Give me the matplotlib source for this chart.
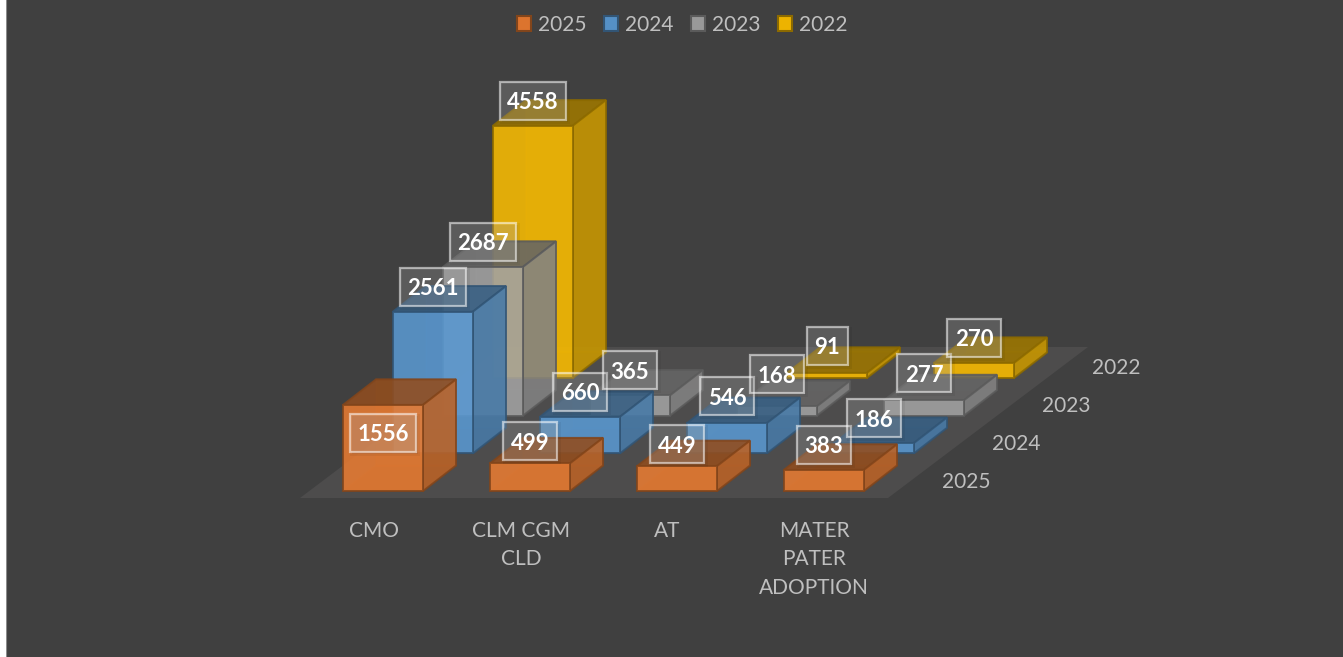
import matplotlib
matplotlib.use("agg")
import matplotlib.pyplot as plt
from matplotlib.patches import Polygon, Patch, Rectangle

categories = ["CMO", "CLM CGM\nCLD", "AT", "MATER\nPATER\nADOPTION"]
years = ["2025", "2024", "2023", "2022"]
v2025 = [1556, 499, 449, 383]
v2024 = [2561, 660, 546, 186]
v2023 = [2687, 365, 168, 277]
v2022 = [4558, None, 91, 270]
series = [v2025, v2024, v2023, v2022]
colors = ["#ED7D31", "#5B9BD5", "#A5A5A5", "#FFC000"]

# oblique projection, everything in pixels of the picture
X0, Y0 = 343, 491
CAT_STEP = 147
BAR_W = 80
SER_DX, SER_DY = 50, 37.7
DEPTH_DX, DEPTH_DY = 33, 25.5
SCALE = 0.05535
BG = "#404040"
TXT = "#BFBFBF"
FONT = "Lato"


def pt(i, j, x=0, d=0, v=0):
    # i category, j series, x across the bar, d into the bar, v value
    return (X0 + i * CAT_STEP + j * SER_DX + x + d * DEPTH_DX,
            Y0 - j * SER_DY - d * DEPTH_DY - v * SCALE)


def shade(c, f):
    r, g, b = matplotlib.colors.to_rgb(c)
    return (r * f, g * f, b * f)


def draw_bar(ax, i, j, v, c):
    edge = shade(c, 0.55)
    p = lambda x, d, h: pt(i, j, x, d, h)
    w = BAR_W
    faces = [
        ([p(0, 0, 0), p(w, 0, 0), p(w, 1, 0), p(0, 1, 0)], 0.45, 0.25),  # bottom
        ([p(0, 1, 0), p(w, 1, 0), p(w, 1, v), p(0, 1, v)], 0.55, 0.25),  # back
        ([p(0, 0, v), p(w, 0, v), p(w, 1, v), p(0, 1, v)], 0.62, 0.85),  # top
        ([p(w, 0, 0), p(w, 1, 0), p(w, 1, v), p(w, 0, v)], 0.80, 0.85),  # side
        ([p(0, 0, 0), p(w, 0, 0), p(w, 0, v), p(0, 0, v)], 1.00, 0.85),  # front
    ]
    for verts, f, a in faces:
        col = shade(c, f) + (a,)
        ax.add_patch(Polygon(verts, closed=True, facecolor=col,
                             edgecolor=edge + (0.85 if a > 0.5 else 0.15,), linewidth=1.4))


fig = plt.figure(figsize=(13.43, 6.57), dpi=100, facecolor="white")
ax = fig.add_axes([6 / 1343, 0, 1337 / 1343, 1])
ax.set_xlim(6, 1343)
ax.set_ylim(657, 0)
ax.set_facecolor(BG)
ax.set_xticks([])
ax.set_yticks([])
for s in ax.spines.values():
    s.set_visible(False)
ax.axvline(6, color="#8c8c8c", linewidth=1.5)

# floor
ax.add_patch(Polygon([(300, 498), (888, 498), (1088, 347), (500, 347)], closed=True,
                     facecolor="#4D4C4C", edgecolor="none"))

# back row first so the front bars sit over it
for j in range(len(series) - 1, -1, -1):
    for i in range(len(categories) - 1, -1, -1):
        v = series[j][i]
        if v is not None:
            draw_bar(ax, i, j, v, colors[j])

# data labels, 2025 first like the series order. nudge is (series, category)
nudge = {(0, 0): 53, (0, 1): 3, (0, 2): 3, (2, 2): -7, (3, 2): -2, (2, 3): -2, (1, 2): -2}
for j, vals in enumerate(series):
    for i, v in enumerate(vals):
        if v is None:
            continue
        cx = pt(i, j, BAR_W / 2)[0]
        cy = pt(i, j, 0, 0, v)[1] - 25 + nudge.get((j, i), 0)
        txt = str(v)
        w = 12.5 * len(txt) + 16
        # soft shadow
        for grow, a in [(0, 0.07), (4, 0.05)]:
            ax.add_patch(Rectangle((cx - w / 2 - grow / 2 + 2, cy - 17 - grow / 2), w + grow, 38 + grow,
                                   facecolor=(0, 0, 0, a), edgecolor="none"))
        ax.add_patch(Rectangle((cx - w / 2, cy - 19), w, 38, facecolor=(1, 1, 1, 0.18),
                               edgecolor=(1, 1, 1, 0.55), linewidth=1.6))
        ax.text(cx, cy, txt, ha="center", va="center_baseline", color="white",
                fontsize=16, fontweight="bold", family=FONT)

# axis labels
cat_centers = [374, 521, 667, 814]
for c, cx in zip(categories, cat_centers):
    ax.text(cx, 521, c, ha="center", va="top", color=TXT, fontsize=15, family=FONT,
            linespacing=1.53)
for j, y in enumerate(years):
    ax.text(966 + j * SER_DX, 482 - j * 38, y, ha="center", va="center", color=TXT,
            fontsize=15, family=FONT)

handles = [Patch(facecolor=shade(c, 0.93), edgecolor=shade(c, 0.55), linewidth=1.5, label=y)
           for c, y in zip(colors, years)]
leg = ax.legend(handles=handles, ncol=4, loc="center", bbox_to_anchor=(682 / 1343, 1 - 25 / 657),
                bbox_transform=fig.transFigure, frameon=False, prop={"family": FONT, "size": 15},
                labelcolor=TXT, handlelength=0.7, handleheight=0.7, handletextpad=0.3,
                columnspacing=0.85, borderpad=0, borderaxespad=0)

fig.savefig("out.png", dpi=100, facecolor=fig.get_facecolor())
